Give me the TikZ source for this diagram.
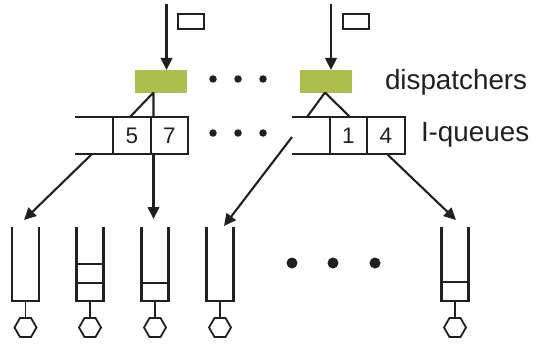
\documentclass[tikz,border=0pt]{standalone}
\usepackage{fontspec}
\setmainfont{Liberation Sans}
\usetikzlibrary{arrows.meta,shapes.geometric}
\definecolor{disp}{HTML}{AEBE4C}
\definecolor{ink}{HTML}{231F20}
\begin{document}
\begin{tikzpicture}[x=1pt,y=-1pt,
  line width=2.1pt, draw=ink,
  every node/.style={inner sep=0pt, outer sep=0pt},
  dispbox/.style={fill=disp, minimum width=52pt, minimum height=23pt},
  cell/.style={draw=ink, line width=2.1pt, minimum width=37.5pt, minimum height=37pt, font=\fontsize{22.5}{24}\selectfont, text=ink},
  job/.style={draw=ink, line width=1.8pt, minimum width=26pt, minimum height=15pt},
  flow/.style={-{Triangle[length=12pt,width=11.5pt]}},
  label/.style={anchor=west, font=\fontsize{27.8}{30}\selectfont, text=ink},
  server/.style={draw=ink, line width=1.8pt, regular polygon, regular polygon sides=6, minimum size=22pt},
  bigdot/.style={circle, fill=ink, minimum size=11pt},
  smalldot/.style={circle, fill=ink, minimum size=7.5pt}
]
\useasboundingbox (0,0) rectangle (533,345);

% arriving jobs and dispatchers
\coordinate (in1) at (166.5,4);
\coordinate (in2) at (331,4);
\node[job] (j1) at (191,21.5) {};
\node[job] (j2) at (356,21.5) {};
\node[dispbox] (d1) at (161,81.5) {};
\node[dispbox] (d2) at (326,81.5) {};
\draw[flow] (in1) -- (in1 |- d1.north);
\draw[flow] (in2) -- (in2 |- d2.north);

% I-queues
\node[cell] (q5) at (132,135.5) {5};
\node[cell] (q7) at (169.5,135.5) {7};
\node[cell] (q1) at (348.5,135.5) {1};
\node[cell] (q4) at (386,135.5) {4};
\coordinate (qa) at (75,117);
\coordinate (qb) at (292,117);
\draw (qa) -- (q5.north west) (qa |- q5.south) -- (q5.south west);
\draw (qb) -- (q1.north west) (qb |- q1.south) -- (q1.south west);

% dispatcher to I-queue links
\coordinate (d1o) at (153.5,92.5);
\coordinate (d2o) at (325,92.5);
\draw (d1o) -- (130,117) (d1o) -- (153.5,117);
\draw (d2o) -- (307,117) (d2o) -- (350,117);

% servers with their local queues
\foreach \n/\cx in {b1/25.5, b2/90, b3/155, b4/220, b5/455} {
  \coordinate (\n t) at (\cx,227);
  \draw (\cx-13.5,227) -- (\cx-13.5,301) -- (\cx+13.5,301) -- (\cx+13.5,227);
  \node[server] (\n s) at (\cx,327.5) {};
  \draw[line width=1.8pt] (\cx,301) -- (\n s.north);
}
\draw[line width=1.8pt] (90-13.5,264) -- (90+13.5,264) (90-13.5,283) -- (90+13.5,283);
\draw[line width=1.8pt] (155-13.5,283) -- (155+13.5,283);
\draw[line width=1.8pt] (455-13.5,282) -- (455+13.5,282);

% routing from I-queues to servers
\coordinate (r1) at (92,154);
\coordinate (r2) at (153.5,154);
\coordinate (r3) at (292,137);
\coordinate (r4) at (387,154);
\draw[flow] (r1) -- (24,220);
\draw[flow] (r2) -- (153.5,219);
\draw[flow] (r3) -- (224,226);
\draw[flow] (r4) -- (456,220);

% ellipses
\foreach \x in {213,238,263} {
  \node[smalldot] at (\x,79) {};
  \node[smalldot] at (\x,133) {};
}
\foreach \x in {292,333,375} \node[bigdot] at (\x,263) {};

% labels
\node[label] (ld) at (385,82) {dispatchers};
\node[label] (lq) at (421,135) {I-queues};
\end{tikzpicture}
\end{document}
